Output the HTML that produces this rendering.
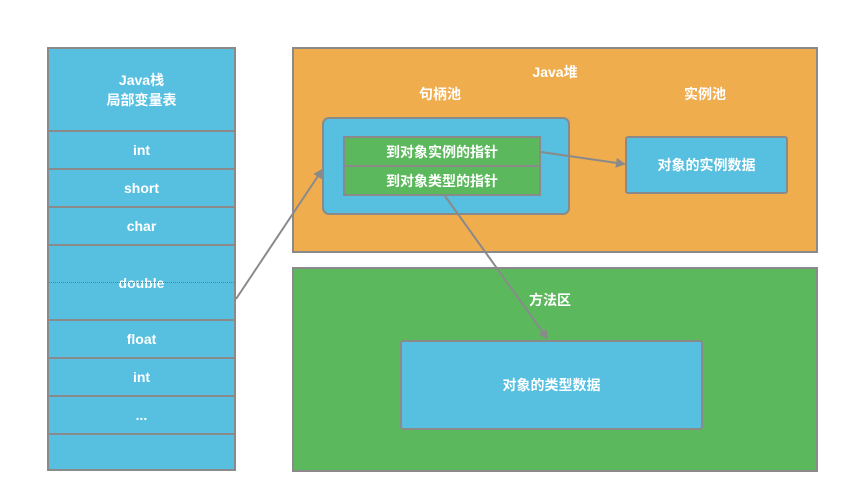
<!DOCTYPE html>
<html><head><meta charset="utf-8"><style>
body{margin:0;width:849px;height:503px;background:#fff;position:relative;overflow:hidden;font-family:"Liberation Sans","Noto Sans CJK SC",sans-serif;font-weight:bold;color:#fff;font-size:14px}
.b{position:absolute;box-sizing:border-box;display:flex;align-items:center;justify-content:center;text-align:center}
.bl{background:#57bfdf;border:2px solid #8a8a8a}
</style></head><body>
<div class="b bl" style="left:47px;top:47px;width:189px;height:85px;line-height:20px">Java栈<br>局部变量表</div>
<div class="b bl" style="left:47px;top:130px;width:189px;height:40px">int</div>
<div class="b bl" style="left:47px;top:168px;width:189px;height:40px">short</div>
<div class="b bl" style="left:47px;top:206px;width:189px;height:40px">char</div>
<div class="b bl" style="left:47px;top:244px;width:189px;height:77px">double</div>
<div style="position:absolute;left:49px;top:282px;width:185px;border-top:1px dotted #777"></div>
<div class="b bl" style="left:47px;top:319px;width:189px;height:40px">float</div>
<div class="b bl" style="left:47px;top:357px;width:189px;height:40px">int</div>
<div class="b bl" style="left:47px;top:395px;width:189px;height:40px">...</div>
<div class="b bl" style="left:47px;top:433px;width:189px;height:38px"></div>

<div class="b" style="left:292px;top:47px;width:526px;height:206px;background:#f0ad4e;border:2px solid #8a8a8a"></div>
<div class="b" style="left:292px;top:62px;width:526px;height:20px">Java堆</div>
<div class="b" style="left:390px;top:84px;width:100px;height:20px">句柄池</div>
<div class="b" style="left:655px;top:84px;width:100px;height:20px">实例池</div>
<div class="b bl" style="left:322px;top:117px;width:248px;height:98px;border-radius:7px"></div>
<div class="b" style="left:343px;top:136px;width:198px;height:31px;background:#5cb85c;border:2px solid #8a8a8a">到对象实例的指针</div>
<div class="b" style="left:343px;top:165px;width:198px;height:31px;background:#5cb85c;border:2px solid #8a8a8a">到对象类型的指针</div>
<div class="b bl" style="left:625px;top:136px;width:163px;height:58px;border-radius:3px">对象的实例数据</div>

<div class="b" style="left:292px;top:267px;width:526px;height:205px;background:#5cb85c;border:2px solid #8a8a8a"></div>
<div class="b" style="left:500px;top:290px;width:100px;height:20px">方法区</div>
<div class="b bl" style="left:400px;top:340px;width:303px;height:90px;border-radius:3px">对象的类型数据</div>

<svg style="position:absolute;left:0;top:0" width="849" height="503">
<defs><marker id="a" markerWidth="10" markerHeight="10" refX="8" refY="5" orient="auto" markerUnits="userSpaceOnUse"><path d="M0,0L10,5L0,10z" fill="#8a8a8a"/></marker></defs>
<g stroke="#8a8a8a" stroke-width="2" fill="none" marker-end="url(#a)">
<line x1="236" y1="299" x2="322" y2="170"/>
<line x1="541" y1="152" x2="624" y2="164"/>
<line x1="445" y1="196" x2="547" y2="338"/>
</g></svg>
</body></html>
